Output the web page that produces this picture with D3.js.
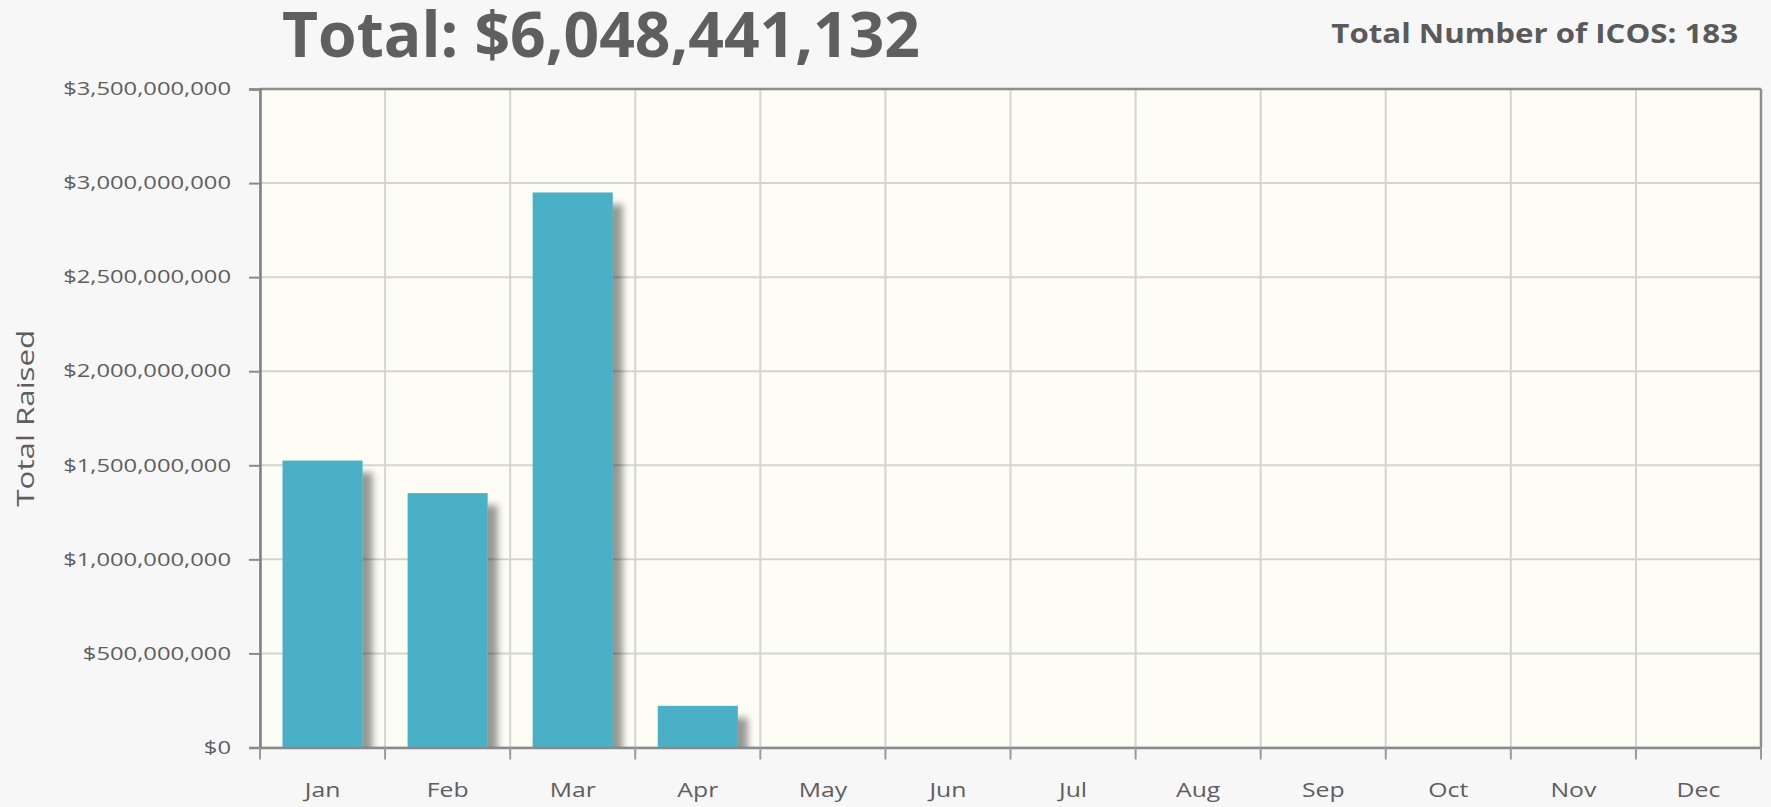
<!DOCTYPE html>
<html>
<head>
<meta charset="utf-8">
<script src="https://cdn.jsdelivr.net/npm/d3@7"></script>
<style>
  html, body { margin: 0; padding: 0; background: #f7f7f7; }
  svg { display: block; }
  text { font-family: "Open Sans", "DejaVu Sans", sans-serif; }
</style>
</head>
<body>
<svg id="chart" width="1771" height="807"></svg>
<script>
// Monthly ICO funding totals (USD)
const months = ["Jan", "Feb", "Mar", "Apr", "May", "Jun", "Jul", "Aug", "Sep", "Oct", "Nov", "Dec"];
const raised = [1525000000, 1352000000, 2950000000, 221441132, 0, 0, 0, 0, 0, 0, 0, 0];
const yTicks = [0, 500000000, 1000000000, 1500000000, 2000000000, 2500000000, 3000000000, 3500000000];
const totalLabel = "Total: $6,048,441,132";
const countLabel = "Total Number of ICOS: 183";
const yTitle = "Total Raised";

const W = 1771, H = 807;
const m = { left: 260, right: 10, top: 89, bottom: 59.5 };
const innerW = W - m.left - m.right;
const innerH = H - m.top - m.bottom;

// Widen text glyphs horizontally by a given factor (the typeface used here is broad)
function widen(sel, factor) {
  sel.each(function () {
    const w = this.getComputedTextLength();
    d3.select(this).attr("textLength", w * factor).attr("lengthAdjust", "spacingAndGlyphs");
  });
}

const svg = d3.select("#chart");
const defs = svg.append("defs");

const shadow = defs.append("filter").attr("id", "barShadow")
  .attr("x", "-20%").attr("y", "-20%").attr("width", "160%").attr("height", "160%");
shadow.append("feDropShadow")
  .attr("dx", 10).attr("dy", 12).attr("stdDeviation", 3.5)
  .attr("flood-color", "#000").attr("flood-opacity", 0.4);

defs.append("clipPath").attr("id", "plotClip")
  .append("rect").attr("width", innerW).attr("height", innerH);

const x = d3.scaleBand().domain(months).range([0, innerW]).paddingInner(0.36).paddingOuter(0.18);
const xEdge = d3.scaleBand().domain(months).range([0, innerW]).padding(0);
const y = d3.scaleLinear().domain([0, 3500000000]).range([innerH, 0]);

const g = svg.append("g").attr("transform", `translate(${m.left},${m.top})`);

// plot background
g.append("rect").attr("width", innerW).attr("height", innerH).attr("fill", "#fdfdf5");

// horizontal grid
g.append("g").selectAll("line").data(yTicks).join("line")
  .attr("x1", 0).attr("x2", innerW)
  .attr("y1", d => y(d)).attr("y2", d => y(d))
  .attr("stroke", "#d4d4d0").attr("stroke-width", 2);

// vertical grid at month boundaries
const edges = months.map(d => xEdge(d)).concat([innerW]);
g.append("g").selectAll("line").data(edges).join("line")
  .attr("x1", d => d).attr("x2", d => d)
  .attr("y1", 0).attr("y2", innerH)
  .attr("stroke", "#d4d4d0").attr("stroke-width", 2);

// bars
g.append("g").attr("clip-path", "url(#plotClip)")
  .append("g").attr("filter", "url(#barShadow)")
  .selectAll("rect").data(months.map((mo, i) => ({ mo, v: raised[i] })).filter(d => d.v > 0))
  .join("rect")
  .attr("x", d => x(d.mo))
  .attr("width", x.bandwidth())
  .attr("y", d => y(d.v))
  .attr("height", d => innerH - y(d.v))
  .attr("fill", "#48b0c6");

// plot frame: top and right
g.append("line").attr("x1", 0).attr("x2", innerW).attr("y1", 0).attr("y2", 0)
  .attr("stroke", "#8e8e8e").attr("stroke-width", 2.5);
g.append("line").attr("x1", innerW).attr("x2", innerW).attr("y1", 0).attr("y2", innerH)
  .attr("stroke", "#8e8e8e").attr("stroke-width", 2.5);

// y axis
const yAxis = g.append("g")
  .call(d3.axisLeft(y).tickValues(yTicks).tickSize(11).tickPadding(18)
    .tickFormat(d => "$" + d3.format(",")(d)));
yAxis.select(".domain").attr("stroke", "#7f7f7f").attr("stroke-width", 2.5);
yAxis.selectAll(".tick line").attr("stroke", "#8a8a8a").attr("stroke-width", 2);
yAxis.selectAll(".tick text").attr("fill", "#5e5e5e").style("font-size", "18px")
  .call(widen, 1.32);

// x axis: labels centred in months, ticks at boundaries
const xAxis = g.append("g").attr("transform", `translate(0,${innerH})`)
  .call(d3.axisBottom(xEdge).tickSize(0).tickPadding(36));
xAxis.select(".domain").attr("stroke", "#8a8a8a").attr("stroke-width", 2.5);
xAxis.selectAll(".tick text").attr("fill", "#5e5e5e").style("font-size", "19.5px")
  .call(widen, 1.27);
xAxis.append("g").selectAll("line").data(edges).join("line")
  .attr("x1", d => d).attr("x2", d => d).attr("y1", 0).attr("y2", 12)
  .attr("stroke", "#9a9a9a").attr("stroke-width", 2);

// y axis title
svg.append("text")
  .attr("transform", `translate(34,${m.top + innerH / 2}) rotate(-90)`)
  .attr("text-anchor", "middle")
  .attr("fill", "#5e5e5e")
  .style("font-size", "23px")
  .text(yTitle)
  .call(widen, 1.36);

// headline totals
svg.append("text")
  .attr("x", 282).attr("y", 57)
  .attr("fill", "#5f5f5f")
  .style("font-size", "62px").style("font-weight", 700)
  .attr("textLength", 638).attr("lengthAdjust", "spacingAndGlyphs")
  .text(totalLabel);

svg.append("text")
  .attr("x", 1738).attr("y", 43)
  .attr("text-anchor", "end")
  .attr("fill", "#5a5a5a")
  .style("font-size", "26px").style("font-weight", 700)
  .text(countLabel)
  .call(widen, 1.2);
</script>
</body>
</html>
